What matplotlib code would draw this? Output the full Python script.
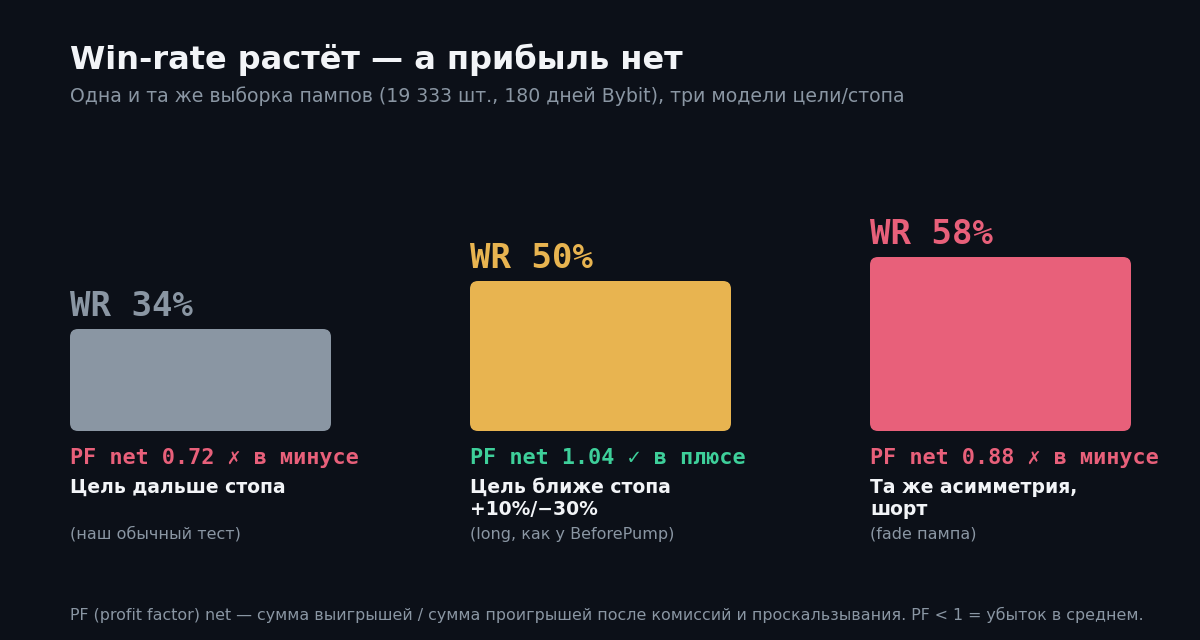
import matplotlib.pyplot as plt
from matplotlib.patches import FancyBboxPatch

# data
win_rates = [34, 50, 58]
wr_labels = ["WR 34%", "WR 50%", "WR 58%"]
pf_labels = ["PF net 0.72 ✗ в минусе", "PF net 1.04 ✓ в плюсе", "PF net 0.88 ✗ в минусе"]
descs = ["Цель дальше стопа", "Цель ближе стопа\n+10%/−30%", "Та же асимметрия,\nшорт"]
notes = ["(наш обычный тест)", "(long, как у BeforePump)", "(fade пампа)"]
bar_colors = ["#8a96a3", "#e8b450", "#e8607a"]
pf_colors = ["#e8607a", "#3ecf9a", "#e8607a"]

bg = "#0c1018"
fig = plt.figure(figsize=(12, 6.4), dpi=100, facecolor=bg)
ax = fig.add_axes([0, 0, 1, 1])
ax.set_facecolor(bg)
ax.set_xlim(0, 1200)
ax.set_ylim(640, 0)
ax.axis("off")

sans = ["DejaVu Sans"]
mono = ["DejaVu Sans Mono"]

ax.text(70, 60, "Win-rate растёт — а прибыль нет", color="#f2f4f7", fontsize=23,
        fontweight="bold", va="center", family=sans)
ax.text(70, 96, "Одна и та же выборка пампов (19 333 шт., 180 дней Bybit), три модели цели/стопа",
        color="#8a96a3", fontsize=13.6, va="center", family=sans)

base = 431
scale = 3.0
width = 261
for i, wr in enumerate(win_rates):
    x = 70 + i * 400
    h = wr * scale
    ax.add_patch(FancyBboxPatch((x, base - h), width, h,
                                boxstyle="round,pad=0,rounding_size=8",
                                facecolor=bar_colors[i], edgecolor="none"))
    ax.text(x, base - h - 22, wr_labels[i], color=bar_colors[i], fontsize=24.5,
            fontweight="bold", va="center", family=mono)
    ax.text(x, 458, pf_labels[i], color=pf_colors[i], fontsize=15.7,
            fontweight="bold", va="center", family=mono)
    ax.text(x, 478, descs[i], color="#f2f4f7", fontsize=13.5, fontweight="bold",
            va="top", linespacing=1.2, family=sans)
    ax.text(x, 534, notes[i], color="#8a96a3", fontsize=11.5, va="center", family=sans)

ax.text(70, 615, "PF (profit factor) net — сумма выигрышей / сумма проигрышей после комиссий и проскальзывания. PF < 1 = убыток в среднем.",
        color="#8a96a3", fontsize=11.4, va="center", family=sans)

fig.savefig("out.png", dpi=100, facecolor=bg)
